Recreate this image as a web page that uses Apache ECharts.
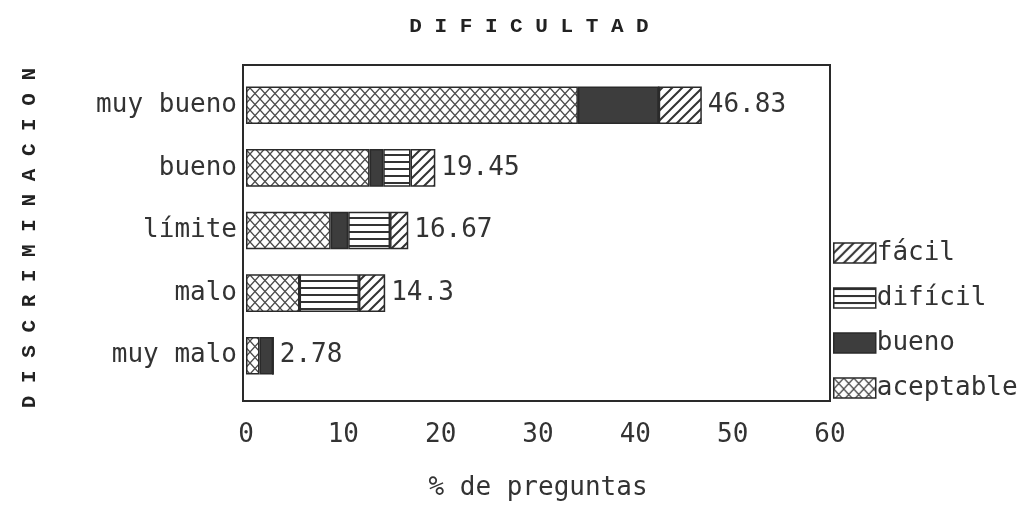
<!DOCTYPE html>
<html lang="es">
  <head>
    <meta charset="UTF-8" />
    <title>Dificultad / Discriminacion</title>
    <script src="https://cdn.jsdelivr.net/npm/echarts@6/dist/echarts.min.js"></script>
    <style>
      body { margin: 0; background: #fff; }
    </style>
  </head>
  <body>
    <div id="chart" style="width: 1026px; height: 506px"></div>

    <script>
      // categorias (de abajo hacia arriba para el eje y)
      var categories = ["muy malo", "malo", "límite", "bueno", "muy bueno"];
      // porcentajes por tipo de dificultad
      var aceptable = [1.39, 5.5, 8.7, 12.7, 34.1];
      var bueno = [1.39, 0, 1.8, 1.4, 8.3];
      var dificil = [0, 6.1, 4.3, 2.8, 0];
      var facil = [0, 2.7, 1.87, 2.55, 4.43];
      var totals = ["2.78", "14.3", "16.67", "19.45", "46.83"];
      var xTicks = [0, 60, 10];

      var font = "DejaVu Sans Mono";

      // texturas de relleno
      function makePattern(kind) {
        var c = document.createElement("canvas");
        var ctx;
        if (kind === "cross") {
          c.width = 10; c.height = 11;
          ctx = c.getContext("2d");
          ctx.fillStyle = "#fff"; ctx.fillRect(0, 0, 10, 11);
          ctx.strokeStyle = "#4a4a4a"; ctx.lineWidth = 1.3;
          ctx.beginPath();
          ctx.moveTo(0, 0); ctx.lineTo(10, 11);
          ctx.moveTo(0, 11); ctx.lineTo(10, 0);
          ctx.stroke();
        } else if (kind === "diag") {
          c.width = 10; c.height = 10;
          ctx = c.getContext("2d");
          ctx.fillStyle = "#fff"; ctx.fillRect(0, 0, 10, 10);
          ctx.strokeStyle = "#333"; ctx.lineWidth = 2;
          ctx.beginPath();
          ctx.moveTo(-1, 11); ctx.lineTo(11, -1);
          ctx.moveTo(-1, 1); ctx.lineTo(1, -1);
          ctx.moveTo(9, 11); ctx.lineTo(11, 9);
          ctx.stroke();
        } else {
          c.width = 4; c.height = 7;
          ctx = c.getContext("2d");
          ctx.fillStyle = "#fff"; ctx.fillRect(0, 0, 4, 7);
          ctx.fillStyle = "#333"; ctx.fillRect(0, 0, 4, 2);
        }
        return { image: c, repeat: "repeat" };
      }

      var border = { borderColor: "#2a2a2a", borderWidth: 1.5 };

      function serie(name, data, color) {
        return {
          name: name,
          type: "bar",
          stack: "total",
          barCategoryGap: "40%",
          data: data,
          itemStyle: Object.assign({ color: color }, border),
        };
      }

      var series = [
        serie("aceptable", aceptable, makePattern("cross")),
        serie("bueno", bueno, "#3d3d3d"),
        serie("difícil", dificil, makePattern("lines")),
        serie("fácil", facil, makePattern("diag")),
      ];
      series[3].label = {
        show: true,
        position: "right",
        distance: 6,
        fontFamily: font,
        fontSize: 26,
        color: "#333",
        formatter: function (p) {
          return totals[p.dataIndex];
        },
      };

      var myChart = echarts.init(document.getElementById("chart"));
      myChart.setOption({
        backgroundColor: "#fff",
        animation: false,
        grid: {
          left: 246,
          right: 196,
          top: 74,
          bottom: 119,
          containLabel: false,
          outerBoundsMode: "none",
        },
        legend: {
          orient: "vertical",
          left: 833,
          top: 240,
          padding: 0,
          itemWidth: 42,
          itemHeight: 20,
          itemGap: 19,
          icon: "rect",
          data: ["fácil", "difícil", "bueno", "aceptable"],
          itemStyle: { borderColor: "#2a2a2a", borderWidth: 1.5 },
          textStyle: { fontFamily: font, fontSize: 26, color: "#333", padding: [0, 0, 0, -4] },
        },
        xAxis: {
          type: "value",
          min: xTicks[0],
          max: xTicks[1],
          interval: xTicks[2],
          axisLine: { show: false },
          axisTick: { show: false },
          splitLine: { show: false },
          axisLabel: { margin: 35, fontFamily: font, fontSize: 26, color: "#333" },
          name: "% de preguntas",
          nameLocation: "middle",
          nameGap: 88,
          nameTextStyle: { fontFamily: font, fontSize: 26, color: "#333" },
        },
        yAxis: {
          type: "category",
          data: categories,
          axisLine: { show: false },
          axisTick: { show: false },
          axisLabel: { margin: 9, fontFamily: font, fontSize: 26, color: "#333" },
        },
        graphic: [
          {
            type: "rect",
            shape: { x: 243, y: 65, width: 587, height: 336 },
            style: { fill: null, stroke: "#2a2a2a", lineWidth: 2 },
            z: 10,
          },
          {
            type: "text",
            x: 529,
            y: 27,
            style: {
              text: "D I F I C U L T A D",
              font: "bold 21px 'Liberation Mono'",
              fill: "#222",
              align: "center",
              verticalAlign: "middle",
            },
          },
          {
            type: "text",
            x: 30,
            y: 238,
            rotation: Math.PI / 2,
            style: {
              text: "D I S C R I M I N A C I O N",
              font: "bold 21px 'Liberation Mono'",
              fill: "#222",
              align: "center",
              verticalAlign: "middle",
            },
          },
        ],
        series: series,
      });
    </script>
  </body>
</html>
